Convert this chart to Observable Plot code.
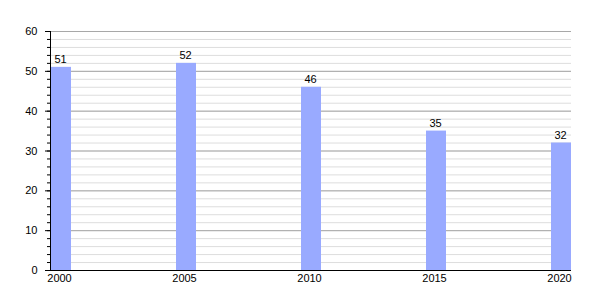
<!DOCTYPE html>
<html>
<head>
<meta charset="utf-8">
<script src="https://cdn.jsdelivr.net/npm/d3@7"></script>
<script src="https://cdn.jsdelivr.net/npm/@observablehq/plot@0.6"></script>
<style>
  html, body { margin: 0; padding: 0; background: #fff; }
  #chart svg { font-family: "Liberation Sans", Arial, sans-serif; }
</style>
</head>
<body>
<div id="chart"></div>
<script>
const years = ["2000", "2005", "2010", "2015", "2020"];
const values = [51, 52, 46, 35, 32];
const majorTicks = [0, 10, 20, 30, 40, 50, 60];
const minorTicks = d3.range(0, 61, 2);

const data = years.map((y, i) => ({year: y, value: values[i]}));

const chart = Plot.plot({
  width: 600,
  height: 300,
  marginLeft: 50,
  marginRight: 29,
  marginTop: 31,
  marginBottom: 30,
  style: {fontSize: "11px", fontFamily: "Liberation Sans, Arial, sans-serif", color: "#000", background: "#fff"},
  x: {domain: years, paddingInner: 0.84, paddingOuter: 0, label: null},
  y: {domain: [0, 60], label: null},
  marks: [
    Plot.gridY(minorTicks, {stroke: "#dddddd", strokeOpacity: 1}),
    Plot.gridY(majorTicks, {stroke: "#a8a8a8", strokeOpacity: 1}),
    Plot.barY(data, {x: "year", y: "value", fill: "#99aaff"}),
    Plot.text(data, {x: "year", y: "value", text: d => String(d.value), lineAnchor: "bottom", dy: -4, dx: -1, fill: "#000", fontSize: 11}),
    Plot.axisY(minorTicks, {tickSize: 3, text: null, stroke: "#000"}),
    Plot.axisY(majorTicks, {tickSize: 5, tickPadding: 8, stroke: "#000", label: null}),
    Plot.axisX({tickSize: 0, tickPadding: 4, dx: -2, label: null}),
    Plot.ruleY([0], {stroke: "#000"}),
    Plot.frame({anchor: "left", stroke: "#000"})
  ]
});
document.getElementById("chart").appendChild(chart);
</script>
</body>
</html>
